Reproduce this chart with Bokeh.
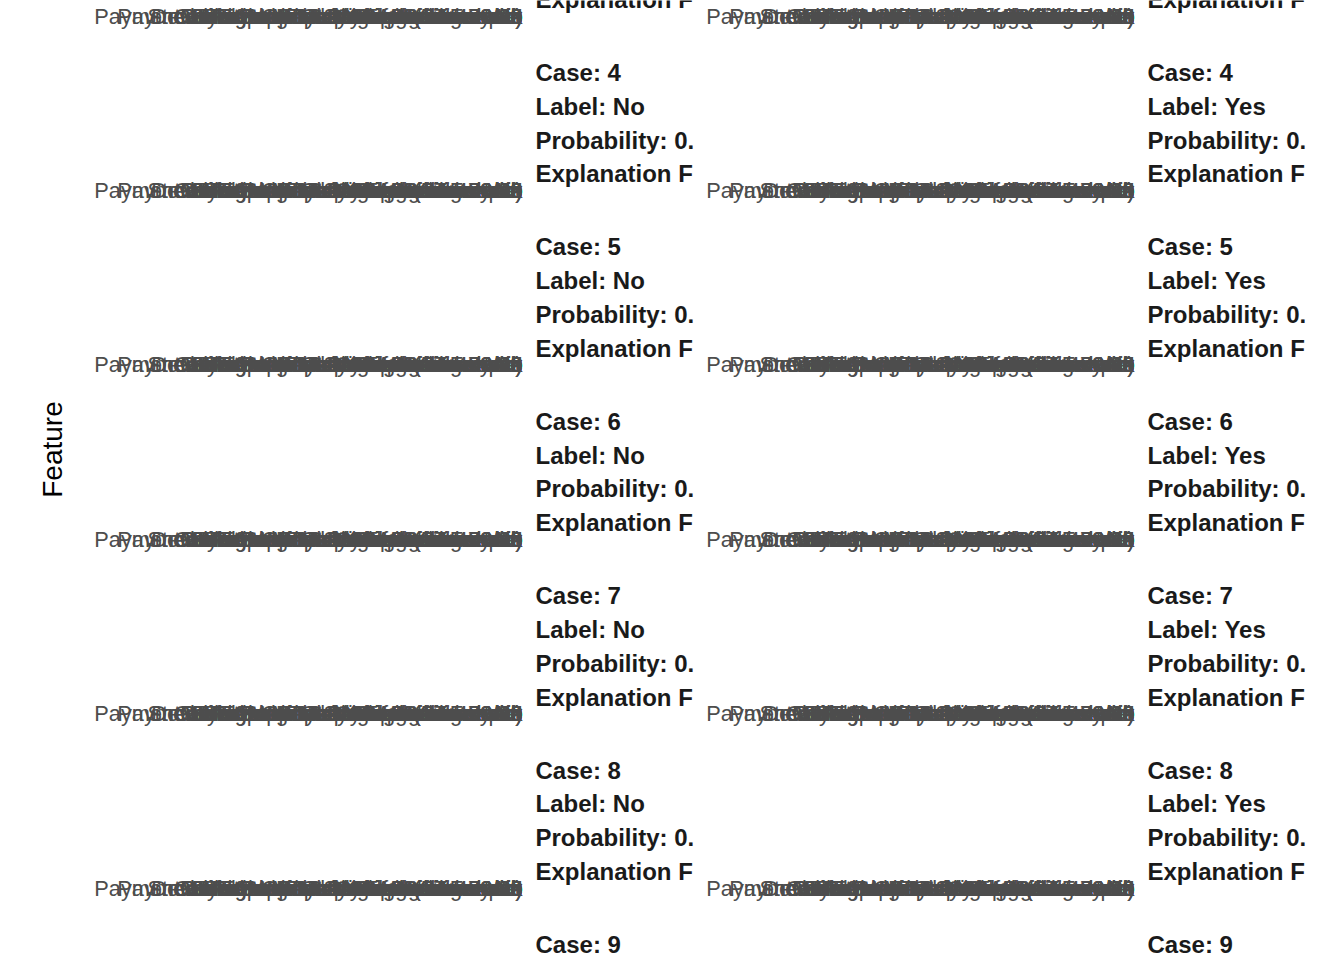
from bokeh.plotting import figure
from bokeh.models import ColumnDataSource, Range1d
from bokeh.core.properties import value
from bokeh.embed import file_html
from bokeh.resources import INLINE
import math

# ---- data ----
cases = [3, 4, 5, 6, 7, 8, 9]
labels = ["No", "Yes"]
strip_prefix = ["Case: ", "Label: ", "Probability: 0.", "Explanation F"]
features = [
    "PaymentMethod = Bank transfer (automatic)",
    "PaymentMethod = Credit card (automatic)",
    "StreamingMovies = No internet service",
    "DeviceProtection = No internet service",
    "StreamingTV = No internet service",
    "OnlineBackup = No internet service",
    "TechSupport = No internet service",
    "OnlineSecurity = No internet service",
    "PaymentMethod = Electronic check",
    "MultipleLines = No phone service",
    "35.59 < MonthlyCharges <= 70.35",
    "InternetService = Fiber optic",
    "PaymentMethod = Mailed check",
    "Contract = Month-to-month",
    "TotalCharges <= 401.45",
    "MonthlyCharges > 89.86",
    "PaperlessBilling = Yes",
    "Contract = Two year",
    "9 < tenure <= 29",
    "PhoneService = Yes",
    "SeniorCitizen = 0",
    "gender = Female",
    "Dependents = No",
    "Partner = Yes",
    "tenure <= 9",
]
y_title = "Feature"

# ---- layout (screen pixels) ----
W, H = 1344, 960
PITCH = 174.4
COL_OFFSET = 612
LABEL_RIGHT = 522
STRIP_LEFT = 535
CASE4_TOP = 72
LINE_GAP = 33.8
LABEL_BELOW = 118

def sy(screen_y):
    return H - screen_y

def visible(screen_y):
    return -14 < screen_y < H + 4

p = figure(width=W, height=H, output_backend="svg", toolbar_location=None,
           x_range=Range1d(0, W), y_range=Range1d(0, H),
           min_border=0, background_fill_color="white", border_fill_color="white")
p.axis.visible = False
p.grid.visible = False
p.outline_line_color = None

fx, fy, ft = [], [], []
sx_, sy_, st = [], [], []
for ci, lab in enumerate(labels):
    for c in cases:
        top = CASE4_TOP + (c - 4) * PITCH
        lines = [f"Case: {c}", f"Label: {lab}", strip_prefix[2], strip_prefix[3]]
        for k, t in enumerate(lines):
            yy = top + k * LINE_GAP
            if visible(yy):
                sx_.append(STRIP_LEFT + ci * COL_OFFSET)
                sy_.append(sy(yy))
                st.append(t)
        yl = top + LABEL_BELOW
        if visible(yl):
            for f in features:
                fx.append(LABEL_RIGHT + ci * COL_OFFSET)
                fy.append(sy(yl))
                ft.append(f)

feat_src = ColumnDataSource(dict(x=fx, y=fy, text=ft))
strip_src = ColumnDataSource(dict(x=sx_, y=sy_, text=st))

p.text(x="x", y="y", text="text", source=feat_src, text_align="right",
       text_baseline="middle", text_font=value("Liberation Sans"),
       text_font_size="21.8px", text_color="#4D4D4D")
p.text(x="x", y="y", text="text", source=strip_src, text_align="left",
       text_baseline="middle", text_font=value("Liberation Sans"),
       text_font_size="24px", text_font_style="bold", text_color="#1A1A1A")
p.text(x=[52], y=[sy(449)], text=[y_title], angle=math.pi / 2,
       text_align="center", text_baseline="middle",
       text_font=value("Liberation Sans"), text_font_size="28px",
       text_color="black")

open("out.html", "w").write(file_html(p, INLINE))
